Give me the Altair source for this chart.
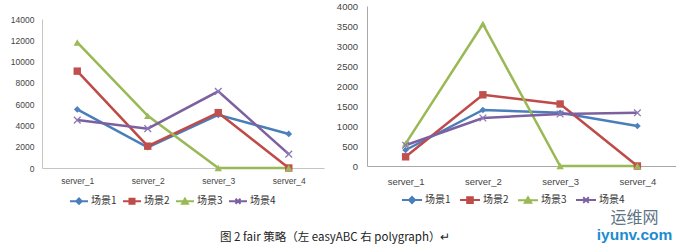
import altair as alt
import pandas as pd

servers = ["server_1", "server_2", "server_3", "server_4"]
series = ["场景1", "场景2", "场景3", "场景4"]

left_s1 = [5500, 1950, 5000, 3200]
left_s2 = [9100, 2050, 5200, 0]
left_s3 = [11800, 4900, 0, 0]
left_s4 = [4500, 3700, 7200, 1300]
left_ticks = [0, 2000, 4000, 6000, 8000, 10000, 12000, 14000]

right_s1 = [400, 1400, 1330, 1000]
right_s2 = [230, 1780, 1550, 0]
right_s3 = [560, 3550, 0, 0]
right_s4 = [520, 1200, 1300, 1330]
right_ticks = [0, 500, 1000, 1500, 2000, 2500, 3000, 3500, 4000]

caption = "图 2 fair 策略（左 easyABC  右 polygraph）↵"
watermark_title = "运维网"
watermark_sub = "iyunv.com"

line_colors = ["#4a7ebb", "#be4b48", "#98b954", "#7d60a0"]
marker_colors = ["#4f81bd", "#c0504d", "#9bbb59", "#8c78b4"]
plot_shapes = ["diamond", "square", "triangle-up", "M-1,-1L1,1M-1,1L1,-1"]
plot_sizes = [45, 55, 55, 45]
legend_shapes = [
    "M-1,0H1M0,-0.3L0.3,0L0,0.3L-0.3,0Z",
    "M-1,0H1M-0.28,-0.28H0.28V0.28H-0.28Z",
    "M-1,0H1M0,-0.3L0.32,0.26H-0.32Z",
    "M-1,0H1M-0.28,-0.28L0.28,0.28M-0.28,0.28L0.28,-0.28",
]

LATIN = "Liberation Sans, Noto Sans CJK SC"
CJK = "Noto Sans CJK SC"


def long_table(vals):
    rows = []
    for s, v in zip(series, vals):
        for srv, val in zip(servers, v):
            rows.append({"server": srv, "series": s, "value": val})
    return pd.DataFrame(rows)


def panel(df, ticks, width, height, yrange, fs, lab_pad, xlab_pad, axis_col,
          leg_x, leg_y, leg_size, leg_fs, col_pad):
    X = alt.X("server:N", sort=servers,
              scale=alt.Scale(type="point", padding=0.5),
              axis=alt.Axis(title=None, ticks=False, tickSize=0, grid=False,
                            labelAngle=0, labelFont=LATIN, labelFontSize=fs,
                            labelColor="#444", labelPadding=xlab_pad,
                            domainColor=axis_col, domainWidth=1))
    Y = alt.Y("value:Q",
              scale=alt.Scale(domain=[ticks[0], ticks[-1]], nice=False,
                              range=yrange),
              axis=alt.Axis(title=None, values=ticks, format="d", ticks=False,
                            tickSize=0, grid=False, labelFont=LATIN,
                            labelFontSize=fs, labelColor="#444",
                            labelPadding=lab_pad, domainColor=axis_col,
                            domainWidth=1))
    layers = []
    for i, s in enumerate(series):
        base = alt.Chart(df).transform_filter(alt.datum.series == s)
        layers.append(base.mark_line(color=line_colors[i], strokeWidth=2.5)
                      .encode(x=X, y=Y))
    for i, s in enumerate(series):
        base = alt.Chart(df).transform_filter(alt.datum.series == s)
        if i < 3:
            m = base.mark_point(shape=plot_shapes[i], filled=True,
                                color=marker_colors[i], size=plot_sizes[i],
                                opacity=1, strokeWidth=1)
        else:
            m = base.mark_point(shape=plot_shapes[i], filled=False,
                                color=marker_colors[i], size=plot_sizes[i],
                                opacity=1, strokeWidth=1.3)
        layers.append(m.encode(x=X, y=Y))
    leg = alt.Legend(title=None, orient="none", legendX=leg_x, legendY=leg_y,
                     direction="horizontal", columns=4, labelFont=CJK,
                     labelFontSize=leg_fs, labelColor="#333", labelOffset=2,
                     columnPadding=col_pad, symbolSize=leg_size,
                     symbolStrokeWidth=2)
    legend_layer = (alt.Chart(df).transform_filter("false")
                    .mark_point(filled=True, size=leg_size, opacity=1,
                                strokeWidth=2)
                    .encode(
                        x=X, y=Y,
                        fill=alt.Fill("series:N", scale=alt.Scale(domain=series, range=marker_colors), legend=leg),
                        stroke=alt.Stroke("series:N", scale=alt.Scale(domain=series, range=line_colors), legend=leg),
                        shape=alt.Shape("series:N", scale=alt.Scale(domain=series, range=legend_shapes), legend=leg),
                    ))
    layers.append(legend_layer)
    return alt.layer(*layers).properties(width=width, height=height)


left_df = long_table([left_s1, left_s2, left_s3, left_s4])
right_df = long_table([right_s1, right_s2, right_s3, right_s4])

left = panel(left_df, left_ticks, 282, 162, [162, 13], 8.5, 8, 8, "#c4c4c4",
             27, 185, 324, 10, 2)

right = panel(right_df, right_ticks, 309, 160, [160, 0], 9.5, 9.5, 10,
              "#a8a8a8", 34, 183, 400, 10, 5).properties(
    title=alt.TitleParams(watermark_title, subtitle=watermark_sub,
                          orient="bottom", frame="group", anchor="middle",
                          dx=113, offset=3, font=CJK, fontSize=16,
                          fontWeight="normal", color="#5d7386",
                          subtitleFont="Liberation Sans",
                          subtitleFontSize=15.5, subtitleFontWeight="bold",
                          subtitleColor="#1d8bd0", subtitlePadding=2))

chart = alt.hconcat(left, right, spacing=12).resolve_scale(
    fill="independent", stroke="independent", shape="independent"
).resolve_legend(
    fill="independent", stroke="independent", shape="independent"
).properties(
    title=alt.TitleParams(caption, orient="bottom", anchor="middle",
                          dx=-8, offset=-12, font=CJK, fontSize=11.5,
                          fontWeight="normal", color="#222")
).configure(
    padding={"left": 10, "top": 1, "right": 0, "bottom": 0}
).configure_view(stroke=None)

chart.save("out.html", embed_options={"renderer": "svg", "actions": False})
